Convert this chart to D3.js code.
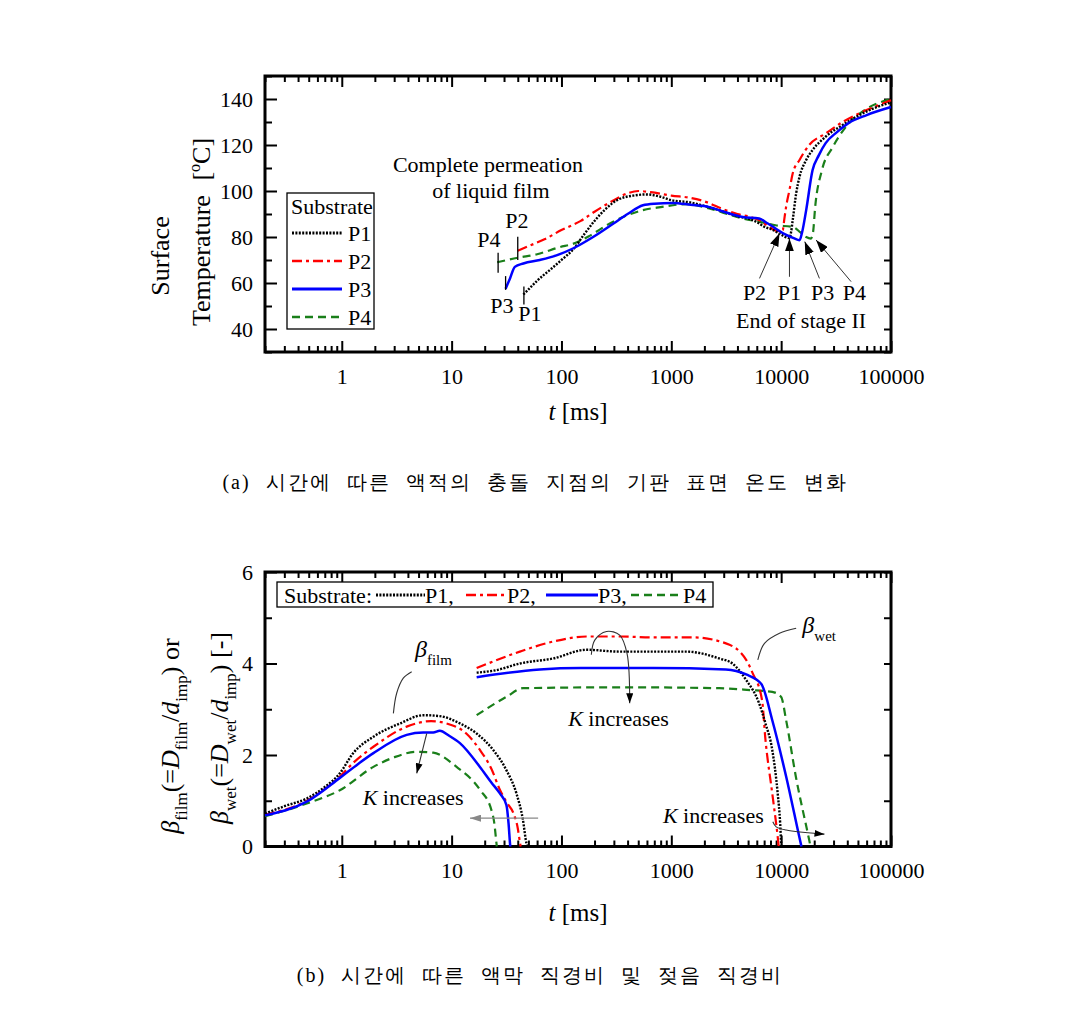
<!DOCTYPE html>
<html><head><meta charset="utf-8">
<script src="https://cdn.jsdelivr.net/npm/d3@7"></script>
<style>
body{margin:0;background:#fff}
svg{display:block}
text{font-family:"Liberation Serif","Times New Roman",serif;fill:#000}
</style>
</head><body>
<svg id="c" width="1072" height="1034"></svg>
<script>
// ---------------- DATA ----------------
const xTickValues = [1, 10, 100, 1000, 10000, 100000];
const topYTicks = [40, 60, 80, 100, 120, 140];
const topYMinor = [30, 50, 70, 90, 110, 130, 150];
const botYTicks = [0, 2, 4, 6];
const botYMinor = [1, 3, 5];
const seriesNames = ["P1", "P2", "P3", "P4"];

// (a) surface temperature [°C] vs t [ms]
const tempP1 = [[45,55],[52,58],[60,61],[80,66],[100,70],[130,75],[160,81],[200,87],[250,92],[320,96],[450,98],[600,98.5],[800,97.5],[1000,96],[1500,95],[2000,93.5],[3000,91],[4000,89],[5000,88],[6000,86.5],[7000,84.5],[8500,83],[10000,81],[11900,79.5],[12300,82],[12750,87.4],[13700,99],[14700,106.2],[16900,113.5],[19300,117.8],[25400,123.6],[36300,128.7],[51500,133],[70000,136],[100000,138.5]];
const tempP2 = [[40,74],[50,76],[70,79],[100,83],[150,87],[200,91],[300,96],[400,99],[500,100],[650,99.5],[1000,98],[1500,97],[2000,95.5],[3000,92],[4000,90],[5000,89],[6500,87],[8000,84],[9500,82.5],[10350,83],[10700,88],[11100,93.2],[11900,100.4],[12750,107.7],[14700,113.5],[18000,120],[25400,125],[36300,130],[51500,133.8],[70000,136.5],[100000,139.5]];
const tempP3 = [[31,57.5],[34,62],[37.6,67],[45,68.5],[63.5,70],[90,72],[127,75],[194,80],[300,86],[400,90],[552,93.8],[700,94.5],[1030,94.8],[1500,94],[2220,93],[3000,91],[4480,88.7],[6300,88],[7500,86],[8900,83.7],[11000,81],[13000,79.5],[14700,78.6],[15500,82],[16900,91.7],[19300,109],[22000,115.5],[25400,120.8],[32000,125.5],[41000,129.5],[60000,133],[100000,136.5]];
const tempP4 = [[26,69],[40,71],[60,72.5],[96.6,75.6],[127,77],[180,80.5],[273,85.8],[400,89.5],[552,91.7],[800,93],[1370,94.3],[2220,92.4],[3000,90.5],[4480,88],[6500,86.5],[8900,85.1],[12750,84.4],[15000,82],[16900,80],[18600,79.3],[19500,82],[20400,93],[23500,109],[29400,119],[39000,128],[58000,135.3],[100000,140]];

// (b) beta_film and beta_wet vs t [ms]
const filmP1 = [[0.2,0.72],[0.3,0.88],[0.48,1.05],[0.7,1.3],[0.96,1.6],[1.27,2.04],[1.94,2.4],[3.39,2.69],[5.52,2.87],[7.8,2.85],[11.9,2.69],[16.9,2.47],[23.9,2.11],[31.5,1.67],[38.9,1.16],[44.6,0.58],[48,0.07],[49,0]];
const filmP2 = [[0.2,0.7],[0.48,1.0],[0.96,1.53],[1.3,1.85],[1.94,2.18],[3.9,2.62],[6.5,2.74],[9,2.69],[13.6,2.47],[18.1,2.11],[23,1.7],[27.5,1.24],[32,0.95],[36.5,0.73],[40,0.4],[42,0.07],[42.5,0]];
const filmP3 = [[0.2,0.68],[0.48,0.98],[0.96,1.5],[1.4,1.8],[1.94,2.04],[3.9,2.44],[5.5,2.49],[6.8,2.49],[7.8,2.53],[9.5,2.42],[11.9,2.26],[18.1,1.74],[23,1.4],[27.5,1.16],[31.5,0.91],[33,0.5],[34,0.07],[34.2,0]];
const filmP4 = [[0.2,0.66],[0.48,0.94],[0.96,1.23],[1.94,1.74],[3,1.95],[4.8,2.07],[6.8,2.05],[11.1,1.74],[18.1,1.24],[23,0.8],[24.5,0.5],[25.6,0.07],[25.8,0]];
const wetP1 = [[16.9,3.8],[25,3.85],[41.8,4.0],[84,4.11],[169,4.3],[336,4.26],[700,4.26],[1370,4.26],[2730,4.11],[3600,4.0],[4800,3.64],[6300,3.13],[7200,2.69],[8300,2.11],[9300,1.16],[9800,0.5],[10000,0.07],[10050,0]];
const wetP2 = [[16.9,3.9],[41.8,4.26],[84,4.48],[169,4.59],[336,4.59],[681,4.57],[1570,4.57],[3140,4.44],[4800,4.08],[5500,3.79],[6700,3.2],[7200,2.33],[8300,1.16],[9300,0.21],[9500,0]];
const wetP3 = [[16.9,3.7],[63.5,3.87],[150,3.9],[681,3.9],[3140,3.87],[4800,3.76],[6600,3.55],[8300,2.76],[11100,1.53],[15200,0.03],[15300,0]];
const wetP4 = [[16.9,2.87],[31.5,3.27],[44.6,3.46],[336,3.48],[2730,3.46],[5200,3.42],[8300,3.38],[10000,3.27],[11100,2.76],[13600,1.53],[18000,0.14],[18500,0]];

// annotations (data coordinates)
const topNotes = [
  {text:"Complete permeation", t:21.4, v:111.7},
  {text:"of liquid film", t:22.8, v:100.4},
  {text:"P4", t:21.8, v:79.1}, {text:"P2", t:39.3, v:87.4},
  {text:"P3", t:28.7, v:50.2}, {text:"P1", t:51.5, v:46.8},
  {text:"P2", t:5720, v:56.1}, {text:"P1", t:11900, v:56.1},
  {text:"P3", t:23900, v:56.1}, {text:"P4", t:46400, v:56.1},
  {text:"End of stage II", t:15200, v:43.9}
];
const startTicks = [{t:26.5,v0:64.5,v1:73.2},{t:40,v0:70,v1:80.1},{t:31,v0:57,v1:63},{t:45.5,v0:50.6,v1:58.5}];
const stageArrows = [
  {t0:6350,v0:62,t1:9660,v1:81.6},
  {t0:11900,v0:62.7,t1:11900,v1:79.4},
  {t0:22300,v0:62,t1:16400,v1:78},
  {t0:43300,v0:60.6,t1:20800,v1:78.7}
];
const kNotes = [{t:1.55,v:0.91},{t:115,v:2.64},{t:839,v:0.51}];
const filmLeader = [[2.95,2.91],[3.16,3.35],[3.63,3.68],[4.33,3.82]];
const wetLeader = [[6130,4.08],[7050,4.44],[9660,4.66],[13700,4.77]];
const filmArrow = [[5.93,2.47],[4.81,1.6]];
const grayArrow = [[61.3,0.62],[14.7,0.62]];
const midArrow = [[187,4.19],[201,4.51],[257,4.70],[339,4.62],[395,4.22],[418,3.13]];
const rightArrow = [[8390,0.54],[9010,0.43],[11100,0.36],[24800,0.27]];

// ---------------- DRAW ----------------
const svg = d3.select("#c");
const SERIF = "Liberation Serif, Times New Roman, serif";
const x = d3.scaleLog().domain([0.2, 1e5]).range([265, 891]);
const yTop = d3.scaleLinear().domain([30, 150]).range([352, 76]);
const yBot = d3.scaleLinear().domain([0, 6]).range([846.5, 572]);

const style = {
  P1:{color:"#000000", dash:"2,1.4", w:2.4},
  P2:{color:"#ff0000", dash:"10,4,3,4", w:2.2},
  P3:{color:"#0000ff", dash:null, w:2.5},
  P4:{color:"#1a7f1a", dash:"8,5", w:2.2}
};

const defs = svg.append("defs");
function marker(id, w, h, color){
  defs.append("marker").attr("id", id).attr("markerUnits","userSpaceOnUse")
    .attr("markerWidth", w).attr("markerHeight", h).attr("refX", w).attr("refY", h/2)
    .attr("orient","auto")
    .append("path").attr("d", `M0,0L${w},${h/2}L0,${h}Z`).attr("fill", color);
}
marker("ahBig", 13, 9, "#000");
marker("ah", 10, 7, "#000");
marker("ahGray", 11, 7, "#888");

const minorX = [];
for (let e = -1; e <= 4; e++) for (let k = 2; k <= 9; k++) {
  const v = k * Math.pow(10, e);
  if (v >= 0.2 && v <= 1e5) minorX.push(v);
}

function styleAxis(g){
  g.select(".domain").remove();
  g.selectAll(".tick line").attr("stroke","#000").attr("stroke-width",2);
  g.attr("font-family", SERIF).attr("font-size", 22);
  g.selectAll("text").attr("fill","#000");
}

function frame(y, yMajor, yMinor){
  const L = 265, R = 891, T = y.range()[1], B = y.range()[0];
  const fmt = d => String(d);
  styleAxis(svg.append("g").attr("transform",`translate(0,${B})`)
    .call(d3.axisBottom(x).tickValues(xTickValues).tickSize(-11).tickPadding(16).tickFormat(fmt)));
  styleAxis(svg.append("g").attr("transform",`translate(0,${B})`)
    .call(d3.axisBottom(x).tickValues(minorX).tickSize(-6).tickFormat("")));
  styleAxis(svg.append("g").attr("transform",`translate(0,${T})`)
    .call(d3.axisTop(x).tickValues(xTickValues).tickSize(-11).tickFormat("")));
  styleAxis(svg.append("g").attr("transform",`translate(0,${T})`)
    .call(d3.axisTop(x).tickValues(minorX).tickSize(-6).tickFormat("")));
  styleAxis(svg.append("g").attr("transform",`translate(${L},0)`)
    .call(d3.axisLeft(y).tickValues(yMajor).tickSize(-12).tickPadding(12).tickFormat(fmt)));
  styleAxis(svg.append("g").attr("transform",`translate(${L},0)`)
    .call(d3.axisLeft(y).tickValues(yMinor).tickSize(-7).tickFormat("")));
  styleAxis(svg.append("g").attr("transform",`translate(${R},0)`)
    .call(d3.axisRight(y).tickValues(yMajor).tickSize(-7).tickFormat("")));
  styleAxis(svg.append("g").attr("transform",`translate(${R},0)`)
    .call(d3.axisRight(y).tickValues(yMinor).tickSize(-7).tickFormat("")));
  svg.append("rect").attr("x",L).attr("y",T).attr("width",R-L).attr("height",B-T)
    .attr("fill","none").attr("stroke","#000").attr("stroke-width",3);
}

function drawSeries(data, y, name){
  const s = style[name];
  const line = d3.line().x(d => x(d[0])).y(d => y(d[1])).curve(d3.curveMonotoneX);
  svg.append("path").attr("d", line(data)).attr("fill","none")
    .attr("stroke", s.color).attr("stroke-width", s.w)
    .attr("stroke-dasharray", s.dash).attr("stroke-linejoin","round");
}

function legendLine(x1, x2, yy, name){
  const s = style[name];
  svg.append("line").attr("x1",x1).attr("x2",x2).attr("y1",yy).attr("y2",yy)
    .attr("stroke", s.color).attr("stroke-width", s.w + 0.4).attr("stroke-dasharray", s.dash);
}

// ===== Chart (a) =====
frame(yTop, topYTicks, topYMinor);
const topData = {P1: tempP1, P2: tempP2, P3: tempP3, P4: tempP4};
["P4","P2","P1","P3"].forEach(n => drawSeries(topData[n], yTop, n));

startTicks.forEach(d => svg.append("line")
  .attr("x1", x(d.t)).attr("x2", x(d.t)).attr("y1", yTop(d.v0)).attr("y2", yTop(d.v1))
  .attr("stroke","#000").attr("stroke-width",1.3));

topNotes.forEach(d => svg.append("text").attr("x", x(d.t)).attr("y", yTop(d.v))
  .attr("dy","0.35em").attr("text-anchor","middle").attr("font-size",22).text(d.text));

stageArrows.forEach(d => svg.append("line")
  .attr("x1", x(d.t0)).attr("y1", yTop(d.v0)).attr("x2", x(d.t1)).attr("y2", yTop(d.v1))
  .attr("stroke","#333").attr("stroke-width",1).attr("marker-end","url(#ahBig)"));

// legend (a)
svg.append("rect").attr("x",287).attr("y",193).attr("width",87).attr("height",136)
  .attr("fill","#fff").attr("stroke","#000").attr("stroke-width",1.3);
svg.append("text").attr("x",291).attr("y",214).attr("font-size",22).text("Substrate");
seriesNames.forEach((n, i) => {
  const yy = 233 + i * 28;
  legendLine(292, 342, yy, n);
  svg.append("text").attr("x",348).attr("y",yy).attr("dy","0.35em").attr("font-size",22).text(n);
});

// axis titles (a)
svg.append("text").attr("transform","translate(160,256) rotate(-90)").attr("text-anchor","middle")
  .attr("dy","0.35em").attr("font-size",26).text("Surface");
const tt = svg.append("text").attr("transform","translate(201,232) rotate(-90)").attr("text-anchor","middle")
  .attr("dy","0.35em").attr("font-size",26);
tt.append("tspan").text("Temperature");
tt.append("tspan").attr("dx",8).text(" [");
tt.append("tspan").attr("dy",-10).attr("font-size",16).text("o");
tt.append("tspan").attr("dy",10).text("C]");

function tms(cx, cy){
  const t = svg.append("text").attr("x",cx).attr("y",cy).attr("dy","0.35em")
    .attr("text-anchor","middle").attr("font-size",25);
  t.append("tspan").attr("font-style","italic").text("t");
  t.append("tspan").text(" [ms]");
}
tms(578, 411);

function caption(cx, cy, str){
  svg.append("text").attr("x",cx).attr("y",cy).attr("dy","0.35em").attr("text-anchor","middle")
    .attr("font-family","Noto Sans CJK KR").attr("font-size",20).attr("fill","#333")
    .attr("letter-spacing",2).attr("word-spacing",8)
    .text(str);
}
caption(535, 482, "(a) 시간에 따른 액적의 충돌 지점의 기판 표면 온도 변화");

// ===== Chart (b) =====
frame(yBot, botYTicks, botYMinor);
const filmData = {P1: filmP1, P2: filmP2, P3: filmP3, P4: filmP4};
const wetData = {P1: wetP1, P2: wetP2, P3: wetP3, P4: wetP4};
["P4","P2","P1","P3"].forEach(n => { drawSeries(filmData[n], yBot, n); drawSeries(wetData[n], yBot, n); });

// legend (b)
svg.append("rect").attr("x",277).attr("y",582).attr("width",436).attr("height",25)
  .attr("fill","#fff").attr("stroke","#000").attr("stroke-width",1.3);
svg.append("text").attr("x",284).attr("y",595).attr("dy","0.35em").attr("font-size",22).text("Substrate:");
const legB = [{n:"P1",x1:376,x2:425,lab:"P1,"},{n:"P2",x1:466,x2:507,lab:"P2,"},{n:"P3",x1:546,x2:598,lab:"P3,"},{n:"P4",x1:631,x2:683,lab:"P4"}];
legB.forEach(d => {
  legendLine(d.x1, d.x2, 595, d.n);
  svg.append("text").attr("x",d.x2).attr("y",595).attr("dy","0.35em").attr("font-size",22).text(d.lab);
});

// annotations (b)
const lineB = d3.line().x(d => x(d[0])).y(d => yBot(d[1])).curve(d3.curveCatmullRom);
function annPath(pts, color, mk){
  const p = svg.append("path").attr("d", lineB(pts)).attr("fill","none")
    .attr("stroke", color).attr("stroke-width",1.1);
  if (mk) p.attr("marker-end", `url(#${mk})`);
}
annPath(filmLeader, "#333", null);
annPath(wetLeader, "#333", null);
annPath(filmArrow, "#333", "ah");
annPath(grayArrow, "#888", "ahGray");
annPath(midArrow, "#333", "ah");
annPath(rightArrow, "#333", "ah");

function betaLabel(t, v, sub){
  const tx = svg.append("text").attr("x", x(t)).attr("y", yBot(v)).attr("font-size",24);
  tx.append("tspan").attr("font-style","italic").text("β");
  tx.append("tspan").attr("dy",8).attr("font-size",15).text(sub);
}
betaLabel(4.64, 4.15, "film");
betaLabel(15600, 4.67, "wet");

kNotes.forEach(d => {
  const tx = svg.append("text").attr("x", x(d.t)).attr("y", yBot(d.v)).attr("font-size",22);
  tx.append("tspan").attr("font-style","italic").text("K");
  tx.append("tspan").text(" increases");
});

// axis titles (b)
function betaTitle(cx, cy, sub, tail){
  const t = svg.append("text").attr("transform",`translate(${cx},${cy}) rotate(-90)`)
    .attr("text-anchor","middle").attr("dy","0.35em").attr("font-size",26);
  t.append("tspan").attr("font-style","italic").text("β");
  t.append("tspan").attr("dy",8).attr("font-size",17).text(sub);
  t.append("tspan").attr("dy",-8).text("(=");
  t.append("tspan").attr("font-style","italic").text("D");
  t.append("tspan").attr("dy",8).attr("font-size",17).text(sub);
  t.append("tspan").attr("dy",-8).text("/");
  t.append("tspan").attr("font-style","italic").text("d");
  t.append("tspan").attr("dy",8).attr("font-size",17).text("imp");
  t.append("tspan").attr("dy",-8).text(tail);
}
betaTitle(170, 736, "film", ") or");
betaTitle(219, 728, "wet", ") [-]");

tms(578, 912);

caption(540, 975, "(b) 시간에 따른 액막 직경비 및 젖음 직경비");
</script>
</body></html>
